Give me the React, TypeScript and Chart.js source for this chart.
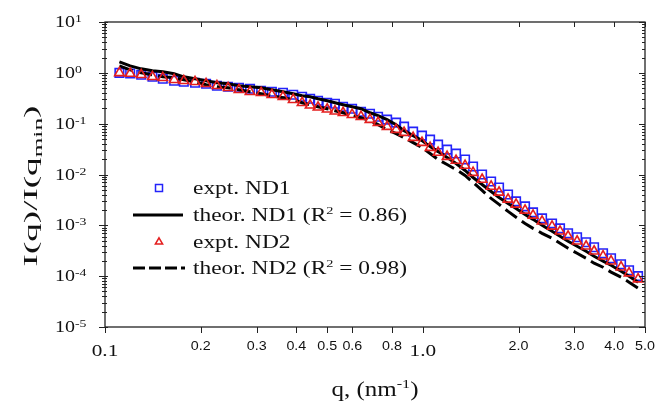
import React, { useEffect, useRef } from 'react';
import { Chart, registerables } from 'chart.js';

Chart.register(...registerables);

// ---- data ----
const q = [0.111, 0.120, 0.130, 0.141, 0.152, 0.165, 0.177, 0.192, 0.208, 0.225, 0.244, 0.264, 0.286, 0.310, 0.335, 0.363, 0.391, 0.417, 0.442, 0.468, 0.500, 0.529, 0.561, 0.599, 0.639, 0.682, 0.723, 0.772, 0.824, 0.873, 0.932, 0.994, 1.054, 1.117, 1.192, 1.272, 1.358, 1.439, 1.536, 1.640, 1.737, 1.854, 1.965, 2.097, 2.222, 2.372, 2.550, 2.702, 2.864, 3.057, 3.263, 3.458, 3.690, 3.910, 4.204, 4.455, 4.756];

const nd1Expt = [1.00, 0.97, 0.914, 0.835, 0.763, 0.697, 0.666, 0.637, 0.608, 0.556, 0.531, 0.508, 0.486, 0.444, 0.424, 0.405, 0.370, 0.338, 0.309, 0.282, 0.258, 0.247, 0.215, 0.197, 0.172, 0.157, 0.137, 0.120, 0.105, 0.0873, 0.0697, 0.0582, 0.0486, 0.0388, 0.0309, 0.0258, 0.0197, 0.0144, 0.0100, 0.00729, 0.00556, 0.00405, 0.00296, 0.00236, 0.00180, 0.00137, 0.00109, 0.000873, 0.000697, 0.000582, 0.000464, 0.000370, 0.000282, 0.000225, 0.000172, 0.000131, 0.000100];

const nd1Theor = [1.643, 1.372, 1.198, 1.094, 1.046, 0.956, 0.835, 0.763, 0.697, 0.637, 0.608, 0.556, 0.531, 0.508, 0.464, 0.424, 0.388, 0.354, 0.338, 0.309, 0.282, 0.258, 0.236, 0.215, 0.197, 0.164, 0.144, 0.120, 0.0956, 0.0729, 0.0582, 0.0464, 0.0354, 0.0282, 0.0215, 0.0164, 0.0120, 0.00873, 0.00637, 0.00464, 0.00354, 0.00270, 0.00215, 0.00164, 0.00131, 0.00100, 0.000763, 0.000608, 0.000486, 0.000388, 0.000309, 0.000247, 0.000197, 0.000164, 0.000125, 0.000100, 0.0000763];

const nd2Expt = [1.00, 0.97, 0.914, 0.835, 0.798, 0.729, 0.697, 0.666, 0.608, 0.556, 0.508, 0.464, 0.424, 0.405, 0.370, 0.338, 0.296, 0.258, 0.230, 0.210, 0.192, 0.176, 0.164, 0.150, 0.137, 0.120, 0.105, 0.0873, 0.0763, 0.0666, 0.0531, 0.0424, 0.0338, 0.0270, 0.0225, 0.0188, 0.0150, 0.0109, 0.00798, 0.00582, 0.00444, 0.00324, 0.00258, 0.00197, 0.00157, 0.00120, 0.000956, 0.000763, 0.000608, 0.000486, 0.000388, 0.000309, 0.000247, 0.000197, 0.000150, 0.000115, 0.0000873];

const nd2Theor = [1.372, 1.145, 1.000, 0.914, 0.835, 0.798, 0.729, 0.666, 0.582, 0.531, 0.508, 0.464, 0.424, 0.388, 0.354, 0.324, 0.296, 0.258, 0.236, 0.215, 0.197, 0.180, 0.164, 0.144, 0.131, 0.115, 0.0956, 0.0763, 0.0637, 0.0531, 0.0424, 0.0338, 0.0258, 0.0197, 0.0157, 0.0125, 0.00956, 0.00697, 0.00486, 0.00338, 0.00258, 0.00188, 0.00144, 0.00109, 0.000873, 0.000697, 0.000556, 0.000444, 0.000354, 0.000282, 0.000225, 0.000180, 0.000150, 0.000120, 0.0000956, 0.0000763, 0.0000582];

const xTickValues = [0.1, 0.2, 0.3, 0.4, 0.5, 0.6, 0.8, 1.0, 2.0, 3.0, 4.0, 5.0];
const xTickLabels = ['0.1', '0.2', '0.3', '0.4', '0.5', '0.6', '0.8', '1.0', '2.0', '3.0', '4.0', '5.0'];
const xTickBig = ['0.1', '1.0'];
const yExponents = [1, 0, -1, -2, -3, -4, -5];

const seriesNames = ['expt. ND1', 'theor. ND1', 'expt. ND2', 'theor. ND2'];
const r2Values = ['0.86', '0.98'];
const xTitle = ['q, (nm', '-1', ')'];
const yTitle = ['I(q)/I(q', 'min', ')'];

const BLUE = 'rgb(35,35,250)';
const RED = 'rgb(228,30,30)';
const INK = '#111';
const SERIF = '"Liberation Serif", "Times New Roman", serif';
const SANS = '"Liberation Sans", Arial, sans-serif';

type Run = { t: string; size: number; dy?: number; family?: string };

function drawRuns(
  ctx: CanvasRenderingContext2D,
  runs: Run[],
  x: number,
  y: number,
  sx: number,
  align: 'left' | 'center' | 'right',
  rotate = 0,
) {
  let total = 0;
  for (const r of runs) {
    ctx.font = `${r.size}px ${r.family || SERIF}`;
    total += ctx.measureText(r.t).width;
  }
  let cx = align === 'left' ? 0 : align === 'center' ? -total / 2 : -total;
  ctx.save();
  ctx.translate(x, y);
  if (rotate) ctx.rotate(rotate);
  ctx.scale(sx, 1);
  ctx.textAlign = 'left';
  ctx.textBaseline = 'alphabetic';
  ctx.fillStyle = INK;
  for (const r of runs) {
    ctx.font = `${r.size}px ${r.family || SERIF}`;
    ctx.fillText(r.t, cx, r.dy || 0);
    cx += ctx.measureText(r.t).width;
  }
  ctx.restore();
}

const decorPlugin = {
  id: 'decor',
  afterDraw(chart: any) {
    const ctx: CanvasRenderingContext2D = chart.ctx;
    const xs = chart.scales.x;
    const ys = chart.scales.y;
    const { left, right, top, bottom } = chart.chartArea;

    ctx.save();
    // frame
    ctx.strokeStyle = '#222';
    ctx.lineWidth = 1.3;
    ctx.strokeRect(left, top, right - left, bottom - top);

    // y ticks (major + minor), both sides
    ctx.lineWidth = 1;
    for (let e = -5; e <= 1; e++) {
      for (let m = 1; m <= 9; m++) {
        if (e === 1 && m > 1) continue;
        const v = m * Math.pow(10, e);
        const py = Math.round(ys.getPixelForValue(v)) + 0.5;
        const major = m === 1;
        ctx.beginPath();
        ctx.moveTo(left - (major ? 6 : 3), py);
        ctx.lineTo(left + (major ? 3 : 2), py);
        ctx.moveTo(right - (major ? 6 : 3), py);
        ctx.lineTo(right, py);
        ctx.stroke();
      }
    }
    // x ticks bottom (outside) and top (inside)
    for (const v of xTickValues) {
      const px = Math.round(xs.getPixelForValue(v)) + 0.5;
      ctx.beginPath();
      ctx.moveTo(px, bottom);
      ctx.lineTo(px, bottom + 6);
      ctx.moveTo(px, top);
      ctx.lineTo(px, top + 5);
      ctx.stroke();
    }

    // y tick labels 10^n
    yExponents.forEach((e) => {
      const py = ys.getPixelForValue(Math.pow(10, e));
      drawRuns(
        ctx,
        [
          { t: '10', size: 16 },
          { t: String(e), size: 11, dy: -5 },
        ],
        55,
        py + 5,
        1.25,
        'left',
      );
    });

    // x tick labels
    xTickValues.forEach((v, i) => {
      const px = xs.getPixelForValue(v);
      const lab = xTickLabels[i];
      if (xTickBig.includes(lab)) {
        drawRuns(ctx, [{ t: lab, size: 17 }], px, 356, 1.25, 'center');
      } else {
        drawRuns(ctx, [{ t: lab, size: 13, family: SANS }], px, 350, 1.1, 'center');
      }
    });

    // x axis title
    drawRuns(
      ctx,
      [
        { t: xTitle[0], size: 20 },
        { t: xTitle[1], size: 13, dy: -8 },
        { t: xTitle[2], size: 20 },
      ],
      (left + right) / 2,
      396,
      1.25,
      'center',
    );

    // y axis title (rotated)
    drawRuns(
      ctx,
      [
        { t: yTitle[0], size: 19 },
        { t: yTitle[1], size: 13, dy: 5 },
        { t: yTitle[2], size: 19 },
      ],
      37,
      186,
      1.95,
      'center',
      -Math.PI / 2,
    );

    // legend
    const lx = 193;
    const rows = [188, 215, 242, 268];
    ctx.strokeStyle = BLUE;
    ctx.lineWidth = 1.5;
    ctx.strokeRect(159 - 3.5, rows[0] - 3.5, 7, 7);
    ctx.strokeStyle = '#000';
    ctx.lineWidth = 3;
    ctx.beginPath();
    ctx.moveTo(133, rows[1]);
    ctx.lineTo(183, rows[1]);
    ctx.stroke();
    ctx.strokeStyle = RED;
    ctx.lineWidth = 1.5;
    ctx.beginPath();
    const tr = 4.2;
    ctx.moveTo(159, rows[2] - tr);
    ctx.lineTo(159 + tr * 0.866, rows[2] + tr * 0.5);
    ctx.lineTo(159 - tr * 0.866, rows[2] + tr * 0.5);
    ctx.closePath();
    ctx.stroke();
    ctx.strokeStyle = '#000';
    ctx.lineWidth = 3;
    ctx.setLineDash([12, 4]);
    ctx.beginPath();
    ctx.moveTo(133, rows[3]);
    ctx.lineTo(185, rows[3]);
    ctx.stroke();
    ctx.setLineDash([]);

    const sxL = 1.3;
    drawRuns(ctx, [{ t: seriesNames[0], size: 18 }], lx, rows[0] + 6, sxL, 'left');
    drawRuns(
      ctx,
      [
        { t: seriesNames[1] + ' (R', size: 18 },
        { t: '2', size: 11, dy: -7 },
        { t: ' = ' + r2Values[0] + ')', size: 18 },
      ],
      lx,
      rows[1] + 6,
      sxL,
      'left',
    );
    drawRuns(ctx, [{ t: seriesNames[2], size: 18 }], lx, rows[2] + 6, sxL, 'left');
    drawRuns(
      ctx,
      [
        { t: seriesNames[3] + ' (R', size: 18 },
        { t: '2', size: 11, dy: -7 },
        { t: ' = ' + r2Values[1] + ')', size: 18 },
      ],
      lx,
      rows[3] + 6,
      sxL,
      'left',
    );
    ctx.restore();
  },
};

export default function App() {
  const ref = useRef<HTMLCanvasElement | null>(null);

  useEffect(() => {
    if (!ref.current) return;
    const pts = (ys: number[]) => q.map((x, i) => ({ x, y: ys[i] }));
    const chart = new Chart(ref.current, {
      type: 'scatter',
      data: {
        datasets: [
          {
            label: seriesNames[0],
            data: pts(nd1Expt),
            pointStyle: 'rect',
            pointRadius: 6,
            pointBorderWidth: 1.6,
            pointBorderColor: BLUE,
            pointBackgroundColor: 'rgba(0,0,0,0)',
            showLine: false,
            order: 3,
          },
          {
            label: seriesNames[1],
            data: pts(nd1Theor),
            showLine: true,
            borderColor: '#000',
            borderWidth: 3,
            pointRadius: 0,
            order: 2,
          },
          {
            label: seriesNames[2],
            data: pts(nd2Expt),
            pointStyle: 'triangle',
            pointRadius: 5.5,
            pointBorderWidth: 1.6,
            pointBorderColor: RED,
            pointBackgroundColor: 'rgba(0,0,0,0)',
            showLine: false,
            order: 0,
          },
          {
            label: seriesNames[3],
            data: pts(nd2Theor),
            showLine: true,
            borderColor: '#000',
            borderWidth: 3,
            borderDash: [14, 6],
            pointRadius: 0,
            order: 1,
          },
        ],
      } as any,
      options: {
        animation: false,
        responsive: false,
        events: [],
        layout: { padding: { top: 22, right: 13, left: 0, bottom: 0 } },
        plugins: { legend: { display: false }, tooltip: { enabled: false } },
        scales: {
          x: {
            type: 'logarithmic',
            min: 0.1,
            max: 5,
            ticks: { display: false },
            grid: { display: false },
            border: { display: false },
            afterFit: (s: any) => {
              s.height = 82;
            },
          },
          y: {
            type: 'logarithmic',
            min: 1e-5,
            max: 10,
            ticks: { display: false },
            grid: { display: false },
            border: { display: false },
            afterFit: (s: any) => {
              s.width = 105;
            },
          },
        },
      } as any,
      plugins: [decorPlugin],
    });
    return () => chart.destroy();
  }, []);

  return (
    <div style={{ position: 'absolute', left: 0, top: 0, width: 658, height: 409, background: '#fff' }}>
      <canvas ref={ref} width={658} height={409} style={{ display: 'block' }} />
    </div>
  );
}
